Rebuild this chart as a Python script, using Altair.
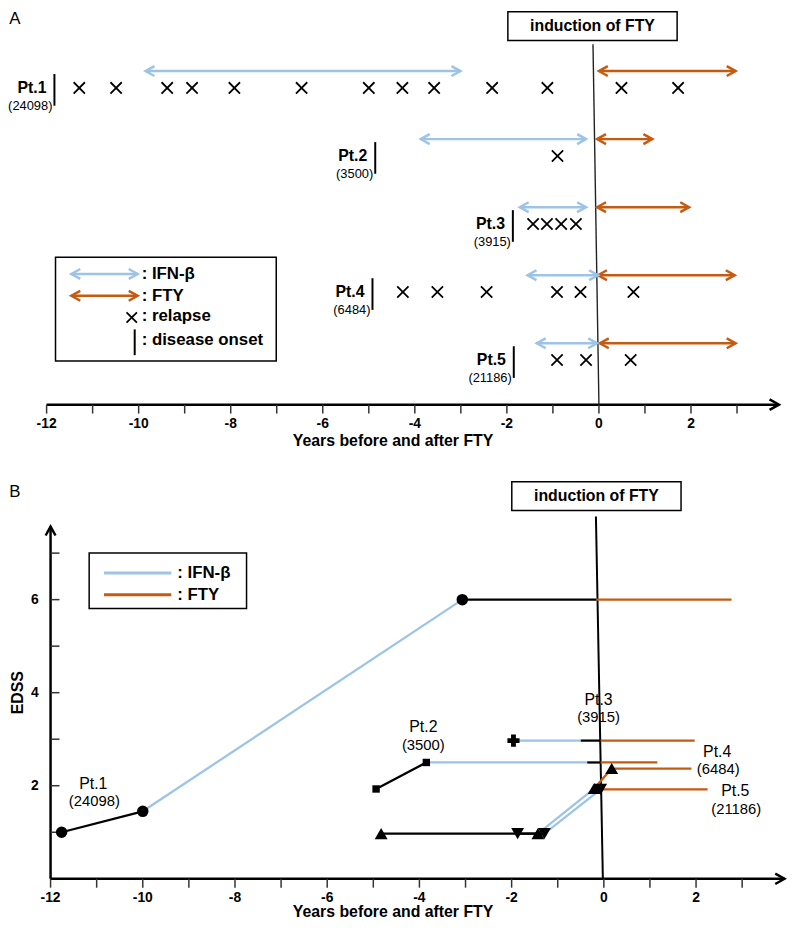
import altair as alt
import pandas as pd

# ---------------- values ----------------
patients = ["Pt.1", "Pt.2", "Pt.3", "Pt.4", "Pt.5"]
patient_ids = ["(24098)", "(3500)", "(3915)", "(6484)", "(21186)"]
patient_rows = [1, 2, 3, 4, 5]

# Panel A : years before / after FTY induction
onset_year = [-11.83, -4.86, -1.87, -4.92, -1.85]
ifn_start = [-9.85, -3.87, -1.72, -1.55, -1.35]
ifn_end = [-3.01, -0.28, -0.28, -0.02, -0.04]
fty_start = [0.0, -0.04, -0.04, -0.02, 0.02]
fty_end = [2.97, 1.16, 1.96, 2.95, 2.97]
relapse_pt1 = [-11.29, -10.49, -9.38, -8.84, -7.92, -6.46, -5.0, -4.27, -3.58, -2.32, -1.12, 0.49, 1.72]
relapse_pt2 = [-0.9]
relapse_pt3 = [-1.43, -1.13, -0.82, -0.5]
relapse_pt4 = [-4.26, -3.51, -2.44, -0.91, -0.4, 0.75]
relapse_pt5 = [-0.91, -0.28, 0.69]
year_ticks = list(range(-12, 4))
year_labels = [-12, -10, -8, -6, -4, -2, 0, 2]
induction_year = [0.0]
axis_start_year = -12.0
axis_end_year_a = 3.91
axis_end_year_b = 3.92

# Panel B : EDSS course (path vertices and the treatment of each segment)
pt1_t = [-11.76, -10.0, -3.07, -0.16, 2.77]
pt1_edss = [1.0, 1.45, 6.0, 6.0, 6.0]
pt1_phase = ["none", "IFN-β", "none", "FTY"]
pt2_t = [-4.94, -3.85, -0.36, -0.07, 1.16]
pt2_edss = [1.93, 2.5, 2.5, 2.5, 2.5]
pt2_phase = ["none", "IFN-β", "none", "FTY"]
pt3_t = [-1.96, -0.5, -0.07, 1.97]
pt3_edss = [2.97, 2.97, 2.97, 2.97]
pt3_phase = ["IFN-β", "none", "FTY"]
pt4_t = [-4.83, -1.43, -0.21, 0.17, 1.90]
pt4_edss = [0.97, 0.97, 1.94, 2.37, 2.37]
pt4_phase = ["none", "IFN-β", "FTY", "FTY"]
pt5_t = [-1.87, -1.29, -0.07, 2.25]
pt5_edss = [0.97, 0.97, 1.92, 1.92]
pt5_phase = ["none", "IFN-β", "FTY"]
# EDSS assessments (markers)
pt1_visit_t = [-11.76, -10.0, -3.07]
pt1_visit_edss = [1.0, 1.45, 6.0]
pt2_visit_t = [-4.94, -3.85]
pt2_visit_edss = [1.93, 2.5]
pt3_visit_t = [-1.96]
pt3_visit_edss = [2.97]
pt4_visit_t = [-4.83, -1.43, -0.21, 0.17]
pt4_visit_edss = [0.97, 0.97, 1.94, 2.37]
pt5_visit_t = [-1.87, -1.29, -0.07]
pt5_visit_edss = [0.97, 0.97, 1.92]
edss_ticks = [1, 2, 3, 4, 5, 6, 7]
edss_labels = [2, 4, 6]
edss_axis_top = 7.57

# ---------------- style / layout ----------------
BLUE = "#9DC3E6"
ORANGE = "#C55A11"
FONT = "Liberation Sans"
W, H = 748, 875
PX_A = 46.5
ROW0, ROW_STEP = 59.0, 68.75
PX_B = 46.58
PX_EDSS = 47.0
AY = 396  # pixel row of the panel A time axis inside the plot

sxA = alt.Scale(domain=[-12.0, -12.0 + W / PX_A], nice=False, zero=False)
syA = alt.Scale(domain=[1 - ROW0 / ROW_STEP, 1 + (H - ROW0) / ROW_STEP],
                reverse=True, nice=False, zero=False)
xb0 = -12.0 - 4.0 / PX_B
sxB = alt.Scale(domain=[xb0, xb0 + W / PX_B], nice=False, zero=False)
syB = alt.Scale(domain=[0.0, H / PX_EDSS], nice=False, zero=False)
scolor = alt.Scale(domain=["IFN-β", "FTY", "none"], range=[BLUE, ORANGE, "black"])

RIGHT_HEAD = "M-1.8,-1L0,0L-1.8,1"
LEFT_HEAD = "M1.8,-1L0,0L1.8,1"
UP_HEAD = "M-1,1.8L0,0L1,1.8"
X_PATH = "M-1,-1L1,1M-1,1L1,-1"
BOX_PATH = "M-1,-0.17L1,-0.17L1,0.17L-1,0.17Z"


def XA(f):
    return alt.X(f, type="quantitative", scale=sxA, axis=None)


def YA(f):
    return alt.Y(f, type="quantitative", scale=syA, axis=None)


def XB(f):
    return alt.X(f, type="quantitative", scale=sxB, axis=None)


def YB(f):
    return alt.Y(f, type="quantitative", scale=syB, axis=None)


one = pd.DataFrame({"k": [0]})
ticks_df = pd.DataFrame({"t": year_ticks})
labels_df = pd.DataFrame({"t": year_labels, "lab": [str(v) for v in year_labels]})
ind_df = pd.DataFrame({"t": induction_year})

# ---------------- panel A ----------------
arrows_a = pd.DataFrame({
    "row": patient_rows * 2,
    "start": ifn_start + fty_start,
    "end": ifn_end + fty_end,
    "drug": ["IFN-β"] * 5 + ["FTY"] * 5,
})
relapse_lists = [relapse_pt1, relapse_pt2, relapse_pt3, relapse_pt4, relapse_pt5]
relapses_a = pd.DataFrame([{"row": r, "t": t} for r, lst in zip(patient_rows, relapse_lists) for t in lst])
onset_a = pd.DataFrame({"row": patient_rows, "t": onset_year, "pt": patients, "pid": patient_ids})
axis_a = pd.DataFrame({"t": [axis_start_year], "t2": [axis_end_year_a]})

a_layers = [
    # time axis
    alt.Chart(axis_a).mark_rule(color="black", strokeWidth=2.5).encode(
        x=XA("t"), x2="t2:Q", y=alt.value(AY)),
    alt.Chart(axis_a).mark_point(shape=RIGHT_HEAD, size=110, strokeWidth=2.5, color="black",
                                 opacity=1, filled=False).encode(x=XA("t2"), y=alt.value(AY)),
    alt.Chart(ticks_df).mark_rule(color="#333", strokeWidth=1.5).encode(
        x=XA("t"), y=alt.value(AY), y2=alt.value(AY + 9)),
    alt.Chart(labels_df).mark_text(fontSize=14, fontWeight="bold", align="center",
                                   baseline="middle", color="black").encode(
        x=XA("t"), y=alt.value(AY + 20), text="lab:N"),
    alt.Chart(one).mark_text(text="Years before and after FTY", fontSize=16, fontWeight="bold",
                             align="center", baseline="middle", color="black").encode(
        x=alt.value(350), y=alt.value(AY + 37)),
    # induction of FTY
    alt.Chart(ind_df).mark_rule(color="#222", strokeWidth=1.4, xOffset=-6).encode(
        x=XA("t"), x2="t:Q", y=alt.value(32), y2=alt.value(AY)),
    alt.Chart(ind_df).mark_point(shape=BOX_PATH, size=171 * 171, filled=True, fill="white",
                                 stroke="black", strokeWidth=1.5, opacity=1, xOffset=-6.5).encode(
        x=XA("t"), y=alt.value(13.5)),
    alt.Chart(ind_df).mark_text(text="induction of FTY", fontSize=16, fontWeight="bold",
                                dx=-6.5, align="center", baseline="middle", color="black").encode(
        x=XA("t"), y=alt.value(13.5)),
    # treatment arrows
    alt.Chart(arrows_a).mark_rule(strokeWidth=2.5).encode(
        x=XA("start"), x2="end:Q", y=YA("row"),
        color=alt.Color("drug:N", scale=scolor, legend=None)),
    alt.Chart(arrows_a).mark_point(shape=LEFT_HEAD, size=100, strokeWidth=2.5, opacity=1,
                                   filled=False).encode(
        x=XA("start"), y=YA("row"), color=alt.Color("drug:N", scale=scolor, legend=None)),
    alt.Chart(arrows_a).mark_point(shape=RIGHT_HEAD, size=100, strokeWidth=2.5, opacity=1,
                                   filled=False).encode(
        x=XA("end"), y=YA("row"), color=alt.Color("drug:N", scale=scolor, legend=None)),
    # relapses
    alt.Chart(relapses_a).mark_point(shape=X_PATH, size=130, strokeWidth=1.8, color="black",
                                     opacity=1, filled=False, yOffset=17).encode(
        x=XA("t"), y=YA("row")),
    # disease onset + labels
    alt.Chart(onset_a).mark_rule(color="black", strokeWidth=2, yOffset=3, y2Offset=35).encode(
        x=XA("t"), y=YA("row"), y2="row:Q"),
    alt.Chart(onset_a).mark_text(align="right", baseline="middle", dx=-8, dy=17, fontSize=16,
                                 fontWeight="bold", color="black").encode(
        x=XA("t"), y=YA("row"), text="pt:N"),
    alt.Chart(onset_a).mark_text(align="right", baseline="middle", dx=-2, dy=35, fontSize=13,
                                 color="black").encode(
        x=XA("t"), y=YA("row"), text="pid:N"),
    # panel letter
    alt.Chart(one).mark_text(text="A", fontSize=17, align="center", baseline="middle",
                             color="black").encode(x=alt.value(-32), y=alt.value(6)),
    # legend A
    alt.Chart(one).mark_rect(fillOpacity=0, stroke="black", strokeWidth=1.5).encode(
        x=alt.value(9), x2=alt.value(232), y=alt.value(247), y2=alt.value(352)),
]
for drug, col, yy in [("IFN-β", BLUE, 264), ("FTY", ORANGE, 286)]:
    a_layers += [
        alt.Chart(one).mark_rule(color=col, strokeWidth=2.5).encode(
            x=alt.value(25), x2=alt.value(92), y=alt.value(yy)),
        alt.Chart(one).mark_point(shape=LEFT_HEAD, size=100, strokeWidth=2.5, color=col,
                                  opacity=1, filled=False).encode(x=alt.value(25), y=alt.value(yy)),
        alt.Chart(one).mark_point(shape=RIGHT_HEAD, size=100, strokeWidth=2.5, color=col,
                                  opacity=1, filled=False).encode(x=alt.value(92), y=alt.value(yy)),
        alt.Chart(one).mark_text(text=": " + drug, fontSize=17, fontWeight="bold", align="left",
                                 baseline="middle", color="black").encode(
            x=alt.value(96), y=alt.value(yy)),
    ]
a_layers += [
    alt.Chart(one).mark_point(shape=X_PATH, size=110, strokeWidth=1.8, color="black", opacity=1,
                              filled=False).encode(x=alt.value(86), y=alt.value(308)),
    alt.Chart(one).mark_text(text=": relapse", fontSize=17, fontWeight="bold", align="left",
                             baseline="middle", color="black").encode(x=alt.value(96), y=alt.value(307)),
    alt.Chart(one).mark_rule(color="black", strokeWidth=2).encode(
        x=alt.value(89), y=alt.value(320), y2=alt.value(346)),
    alt.Chart(one).mark_text(text=": disease onset", fontSize=17, fontWeight="bold", align="left",
                             baseline="middle", color="black").encode(x=alt.value(96), y=alt.value(331)),
]
layerA = alt.layer(*a_layers)

# ---------------- panel B ----------------
b_paths = [(pt1_t, pt1_edss, pt1_phase), (pt2_t, pt2_edss, pt2_phase),
           (pt3_t, pt3_edss, pt3_phase), (pt4_t, pt4_edss, pt4_phase),
           (pt5_t, pt5_edss, pt5_phase)]
seg_rows = []
for name, (ts, es, ph) in zip(patients, b_paths):
    for i, p in enumerate(ph):
        seg_rows.append({"pt": name, "t": ts[i], "t2": ts[i + 1], "e": es[i], "e2": es[i + 1], "phase": p})
segments_b = pd.DataFrame(seg_rows)

b_visits = [(pt1_visit_t, pt1_visit_edss), (pt2_visit_t, pt2_visit_edss),
            (pt3_visit_t, pt3_visit_edss), (pt4_visit_t, pt4_visit_edss),
            (pt5_visit_t, pt5_visit_edss)]
visits_b = pd.DataFrame([{"pt": n, "t": t, "e": e} for n, (ts, es) in zip(patients, b_visits)
                         for t, e in zip(ts, es)])

axis_b = pd.DataFrame({"t": [axis_start_year], "t2": [axis_end_year_b], "e": [0.0], "e2": [edss_axis_top]})
eticks_b = pd.DataFrame({"t": [axis_start_year] * len(edss_ticks), "e": edss_ticks})
elabels_b = pd.DataFrame({"t": [axis_start_year] * len(edss_labels), "e": edss_labels,
                          "lab": [str(v) for v in edss_labels]})

b_layers = [
    # axes
    alt.Chart(axis_b).mark_rule(color="black", strokeWidth=2.5).encode(
        x=XB("t"), x2="t2:Q", y=YB("e")),
    alt.Chart(axis_b).mark_rule(color="black", strokeWidth=2.5).encode(
        x=XB("t"), y=YB("e"), y2="e2:Q"),
    alt.Chart(axis_b).mark_point(shape=RIGHT_HEAD, size=110, strokeWidth=2.5, color="black",
                                 opacity=1, filled=False).encode(x=XB("t2"), y=YB("e")),
    alt.Chart(axis_b).mark_point(shape=UP_HEAD, size=100, strokeWidth=2.5, color="black",
                                 opacity=1, filled=False).encode(x=XB("t"), y=YB("e2")),
    alt.Chart(ticks_df).mark_rule(color="#333", strokeWidth=1.5).encode(
        x=XB("t"), y=alt.value(H), y2=alt.value(H + 9)),
    alt.Chart(labels_df).mark_text(fontSize=14, fontWeight="bold", align="center",
                                   baseline="middle", color="black").encode(
        x=XB("t"), y=alt.value(H + 19), text="lab:N"),
    alt.Chart(one).mark_text(text="Years before and after FTY", fontSize=16, fontWeight="bold",
                             align="center", baseline="middle", color="black").encode(
        x=alt.value(350), y=alt.value(H + 34)),
    alt.Chart(eticks_b).mark_rule(color="#333", strokeWidth=1.5, x2Offset=9).encode(
        x=XB("t"), x2="t:Q", y=YB("e")),
    alt.Chart(elabels_b).mark_text(fontSize=14, fontWeight="bold", align="right", dx=-12,
                                   baseline="middle", color="black").encode(
        x=XB("t"), y=YB("e"), text="lab:N"),
    alt.Chart(one).mark_text(text="EDSS", fontSize=16, fontWeight="bold", angle=270,
                             align="center", baseline="middle", color="black").encode(
        x=alt.value(-29), y=alt.value(687)),
    # induction of FTY
    alt.Chart(ind_df).mark_rule(color="black", strokeWidth=2, xOffset=-8, x2Offset=-1).encode(
        x=XB("t"), x2="t:Q", y=alt.value(509), y2=alt.value(H)),
    alt.Chart(ind_df).mark_point(shape=BOX_PATH, size=171 * 171, filled=True, fill="white",
                                 stroke="black", strokeWidth=1.5, opacity=1, xOffset=-7.5).encode(
        x=XB("t"), y=alt.value(488.5)),
    alt.Chart(ind_df).mark_text(text="induction of FTY", fontSize=16, fontWeight="bold",
                                dx=-7.5, align="center", baseline="middle", color="black").encode(
        x=XB("t"), y=alt.value(488.5)),
    # EDSS courses
    alt.Chart(segments_b).mark_rule(strokeWidth=2.3).encode(
        x=XB("t"), x2="t2:Q", y=YB("e"), y2="e2:Q",
        color=alt.Color("phase:N", scale=scolor, legend=None)),
    alt.Chart(visits_b).mark_point(filled=True, opacity=1, color="black").encode(
        x=XB("t"), y=YB("e"),
        shape=alt.Shape("pt:N", scale=alt.Scale(domain=patients,
                        range=["circle", "square", "cross", "triangle-up", "triangle-down"]), legend=None),
        size=alt.Size("pt:N", scale=alt.Scale(type="ordinal", domain=patients,
                                              range=[135, 56, 150, 170, 170]), legend=None)),
    alt.Chart(one).mark_text(text="B", fontSize=17, align="center", baseline="middle",
                             color="black").encode(x=alt.value(-32), y=alt.value(484)),
    # legend B
    alt.Chart(one).mark_rect(fillOpacity=0, stroke="black", strokeWidth=1.5).encode(
        x=alt.value(43), x2=alt.value(202), y=alt.value(546), y2=alt.value(602)),
]
for drug, col, yy in [("IFN-β", BLUE, 566), ("FTY", ORANGE, 588)]:
    b_layers += [
        alt.Chart(one).mark_rule(color=col, strokeWidth=3).encode(
            x=alt.value(58), x2=alt.value(126), y=alt.value(yy)),
        alt.Chart(one).mark_text(text=": " + drug, fontSize=17, fontWeight="bold", align="left",
                                 baseline="middle", color="black").encode(
            x=alt.value(132), y=alt.value(yy)),
    ]

# patient labels in B, anchored at a point of each patient's course
anchors = {
    "Pt.1": (pt1_visit_t[0], pt1_visit_edss[0], 32, -49, 33, -32),
    "Pt.2": (pt2_visit_t[1], pt2_visit_edss[1], -3, -36, -3, -18),
    "Pt.3": (pt3_visit_t[0], pt3_visit_edss[0], 86, -41, 86, -24),
    "Pt.4": (pt4_t[-1], pt4_edss[-1], 26, -17, 27, 1),
    "Pt.5": (pt5_t[-1], pt5_edss[-1], 28, 2, 29, 20),
}
for name, pid in zip(patients, patient_ids):
    t0, e0, dx1, dy1, dx2, dy2 = anchors[name]
    adf = pd.DataFrame({"t": [t0], "e": [e0], "pt": [name], "pid": [pid]})
    b_layers += [
        alt.Chart(adf).mark_text(fontSize=16, align="center", baseline="middle", dx=dx1, dy=dy1,
                                 color="black").encode(x=XB("t"), y=YB("e"), text="pt:N"),
        alt.Chart(adf).mark_text(fontSize=15, align="center", baseline="middle", dx=dx2, dy=dy2,
                                 color="black").encode(x=XB("t"), y=YB("e"), text="pid:N"),
    ]
layerB = alt.layer(*b_layers)

chart = (
    alt.layer(layerA, layerB)
    .resolve_scale(x="independent", y="independent")
    .properties(width=W, height=H, autosize=alt.AutoSizeParams(type="none"),
                padding={"left": 39, "top": 0, "right": 0, "bottom": 43})
    .configure_view(strokeWidth=0)
    .configure_text(font=FONT)
)

chart.save("out.html", embed_options={"renderer": "svg", "actions": False})
